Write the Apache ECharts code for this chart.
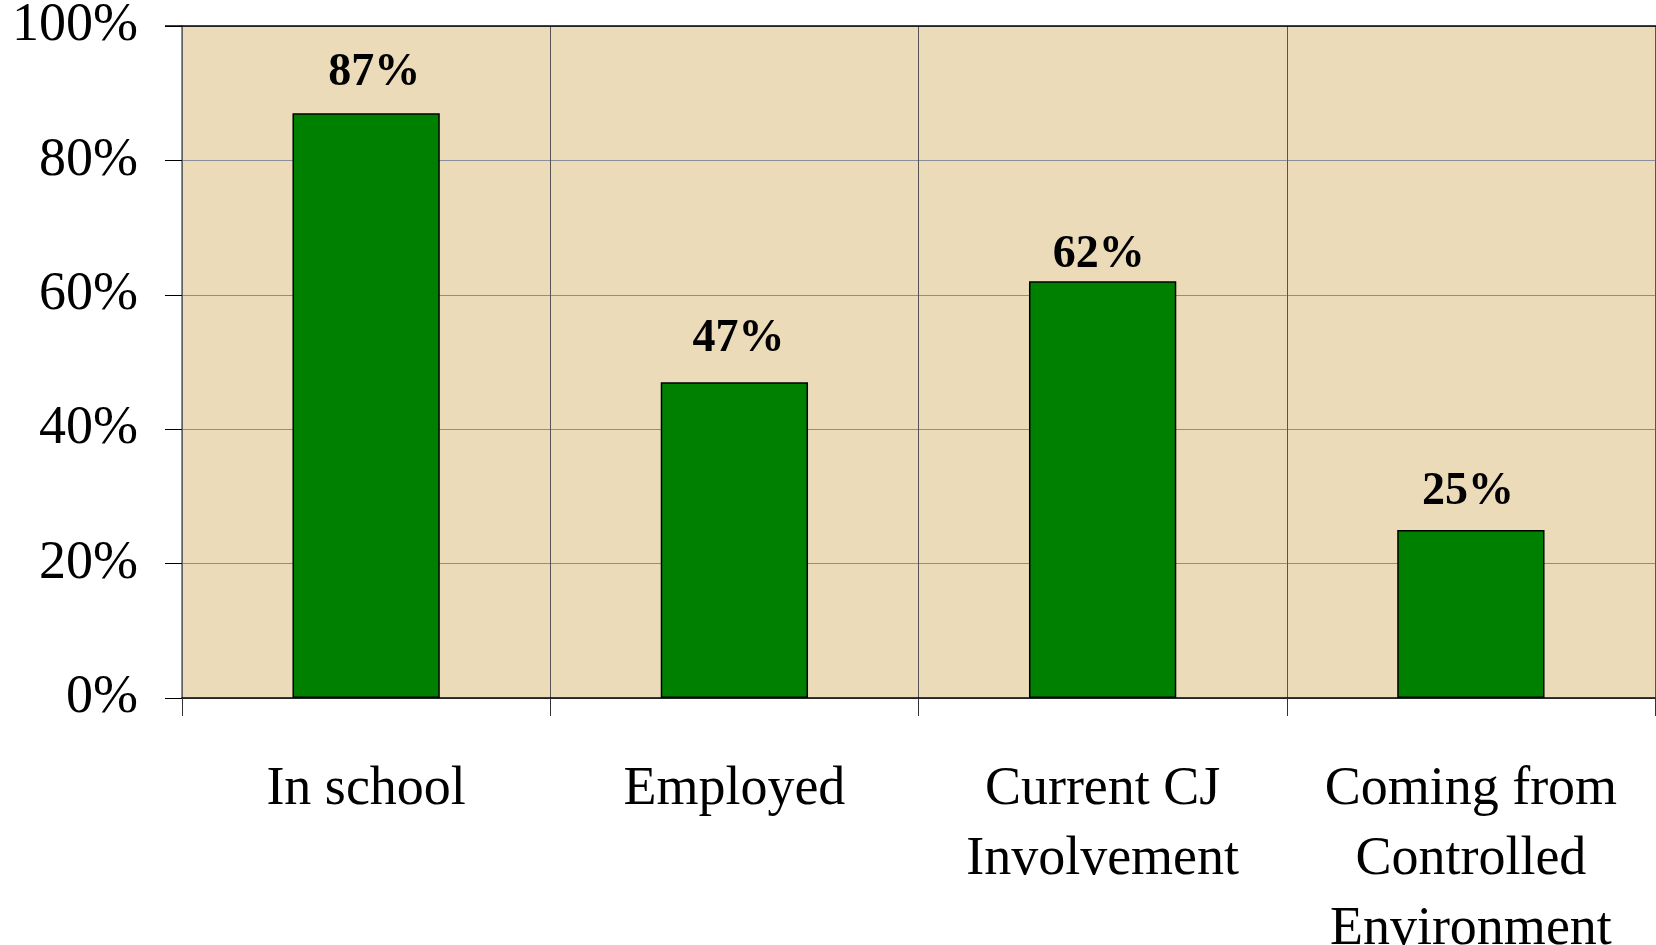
<!DOCTYPE html>
<html>
<head>
<meta charset="utf-8">
<script src="https://cdn.jsdelivr.net/npm/echarts@6/dist/echarts.min.js"></script>
<style>
    html, body { margin: 0; padding: 0; background: #fff; }
    #container { width: 1656px; height: 945px; }
</style>
</head>
<body>
<div id="container"></div>
<script>
// 数据
var categories = ['In school', 'Employed', 'Current CJ\nInvolvement', 'Coming from\nControlled\nEnvironment'];
var values = [87, 47, 62, 25];
var yTicks = [0, 20, 40, 60, 80, 100];

// 标签微调 (样式)
var labelOffsets = [[8, 3], [4, 0], [-4, 17], [-3, 5]];

var dom = document.getElementById('container');
var myChart = echarts.init(dom);
var font = '"Liberation Serif", "Times New Roman", serif';

var barData = [];
for (var i = 0; i < values.length; i++) {
    barData.push({
        value: values[i],
        label: { offset: labelOffsets[i] }
    });
}

var option = {
    animation: false,
    grid: {
        left: 182,
        right: 1,
        top: 26,
        bottom: 247,
        outerBoundsMode: 'none',
        containLabel: false,
        show: true,
        backgroundColor: '#ECDBB8',
        borderWidth: 0
    },
    xAxis: {
        type: 'category',
        data: categories,
        axisLine: { lineStyle: { color: '#000', width: 1.5 } },
        axisTick: { show: true, length: 18, lineStyle: { color: '#333' } },
        splitLine: { show: true, lineStyle: { color: '#555', width: 1 } },
        axisLabel: {
            interval: 0,
            margin: 57,
            color: '#000',
            fontFamily: font,
            fontSize: 54,
            lineHeight: 70
        }
    },
    yAxis: {
        type: 'value',
        min: yTicks[0],
        max: yTicks[yTicks.length - 1],
        interval: 20,
        axisLine: { show: true, lineStyle: { color: '#666', width: 1.5 } },
        axisTick: { show: true, length: 17, lineStyle: { color: '#000' } },
        splitLine: { show: true, lineStyle: { color: '#8a8e9a', width: 1 } },
        axisLabel: {
            margin: 44,
            padding: [6, 0, 0, 0],
            color: '#000',
            fontFamily: font,
            fontSize: 54,
            formatter: '{value}%'
        }
    },
    series: [{
        type: 'bar',
        data: barData,
        barWidth: '40%',
        itemStyle: { color: '#008000', borderColor: '#000', borderWidth: 1.5 },
        label: {
            show: true,
            position: 'top',
            distance: 20,
            color: '#000',
            fontFamily: font,
            fontWeight: 'bold',
            fontSize: 46,
            formatter: '{c}%'
        }
    }],
    graphic: [{
        // 上边框
        type: 'line',
        shape: { x1: 165, y1: 26, x2: 1656, y2: 26 },
        style: { stroke: '#000', lineWidth: 1.5 },
        z: 10
    }]
};
myChart.setOption(option);
</script>
</body>
</html>
